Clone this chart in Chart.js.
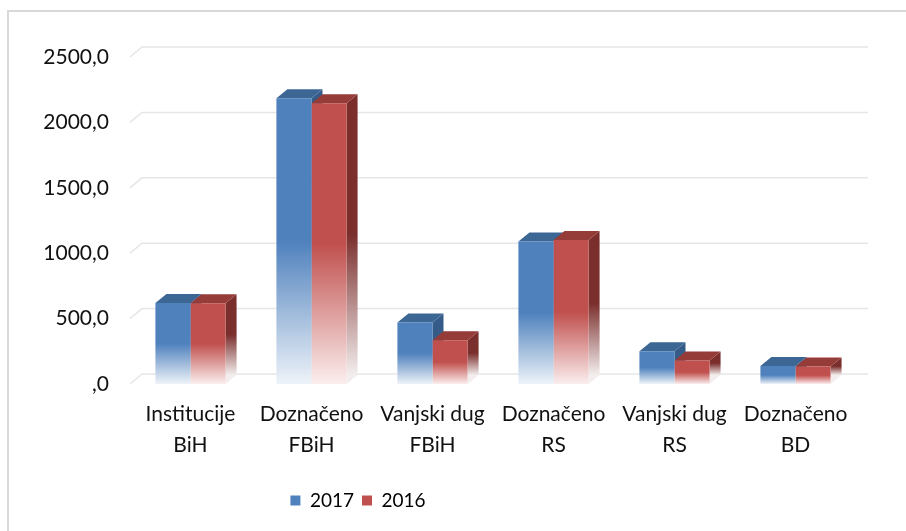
<!DOCTYPE html>
<html>
<head>
<meta charset="utf-8">
<script src="https://cdn.jsdelivr.net/npm/chart.js@4.4.1/dist/chart.umd.min.js"></script>
<style>
  html, body { margin: 0; padding: 0; background: #fff; overflow: hidden; }
  #frame { position: absolute; left: 7px; top: 10px; width: 940px; height: 560px; border: 2px solid #d9d9d9; box-sizing: border-box; }
  #chartWrap { position: absolute; left: 0; top: 0; width: 906px; height: 531px; }
</style>
</head>
<body>
<div id="frame"></div>
<div id="chartWrap"><canvas id="chartFunds"></canvas></div>
<script>
const categories = [
  ['Institucije', 'BiH'],
  ['Doznačeno', 'FBiH'],
  ['Vanjski dug', 'FBiH'],
  ['Doznačeno', 'RS'],
  ['Vanjski dug', 'RS'],
  ['Doznačeno', 'BD'],
];
const values2017 = [620, 2185, 470, 1090, 250, 137];
const values2016 = [618, 2147, 335, 1100, 180, 133];
const yTicks = [0, 500, 1000, 1500, 2000, 2500];

const seriesColors = {
  '2017': { front: '#4f81bd', light: '#eef3f9', top: '#3c6795', side: '#355c89' },
  '2016': { front: '#c0504d', light: '#fbeeee', top: '#953b38', side: '#7a2f2d' },
};
const barDepth = { dx: 11, dy: 9 };
const wallDepth = { dx: 12, dy: 10 };
const legendCenterX = 358;

function fadeFill(colors) {
  return function (context) {
    if (context.type !== 'data') return colors.front;
    const chart = context.chart;
    if (!chart.chartArea) return colors.front;
    const yScale = chart.scales.y;
    const top = yScale.getPixelForValue(context.raw);
    const base = yScale.getPixelForValue(0);
    const g = chart.ctx.createLinearGradient(0, top, 0, base);
    g.addColorStop(0, colors.front);
    g.addColorStop(0.5, colors.front);
    g.addColorStop(1, colors.light);
    return g;
  };
}

// back wall gridlines + top/side faces of the columns, drawn under the front faces
const bar3dPlugin = {
  id: 'bar3d',
  afterLayout(chart) {
    // legend in the reference sits left of the canvas centre
    const lg = chart.legend;
    const shift = legendCenterX - (lg.left + lg.right) / 2;
    lg.left += shift;
    lg.right += shift;
  },
  beforeDatasetsDraw(chart) {
    const ctx = chart.ctx;
    const area = chart.chartArea;
    const yScale = chart.scales.y;
    ctx.save();
    ctx.strokeStyle = '#e6e6e6';
    ctx.lineWidth = 1.5;
    yScale.ticks.forEach(t => {
      const y = yScale.getPixelForValue(t.value);
      ctx.beginPath();
      ctx.moveTo(area.left, y);
      ctx.lineTo(area.left + wallDepth.dx, y - wallDepth.dy);
      ctx.lineTo(area.right + wallDepth.dx, y - wallDepth.dy);
      ctx.stroke();
    });
    chart.data.datasets.forEach((ds, di) => {
      const colors = seriesColors[ds.label];
      const meta = chart.getDatasetMeta(di);
      meta.data.forEach(bar => {
        const { x, y, base, width } = bar.getProps(['x', 'y', 'base', 'width'], true);
        const l = x - width / 2;
        const r = x + width / 2;
        const sg = ctx.createLinearGradient(0, y - barDepth.dy, 0, base - barDepth.dy);
        sg.addColorStop(0, colors.side);
        sg.addColorStop(0.5, colors.side);
        sg.addColorStop(1, '#f3eded');
        ctx.fillStyle = sg;
        ctx.beginPath();
        ctx.moveTo(r, y);
        ctx.lineTo(r + barDepth.dx, y - barDepth.dy);
        ctx.lineTo(r + barDepth.dx, base - barDepth.dy);
        ctx.lineTo(r, base);
        ctx.closePath();
        ctx.fill();
        ctx.fillStyle = colors.top;
        ctx.beginPath();
        ctx.moveTo(l, y);
        ctx.lineTo(l + barDepth.dx, y - barDepth.dy);
        ctx.lineTo(r + barDepth.dx, y - barDepth.dy);
        ctx.lineTo(r, y);
        ctx.closePath();
        ctx.fill();
      });
    });
    ctx.restore();
  }
};

const chartFunds = new Chart(document.getElementById('chartFunds'), {
  type: 'bar',
  data: {
    labels: categories,
    datasets: [
      { label: '2017', data: values2017, backgroundColor: fadeFill(seriesColors['2017']), borderWidth: 0 },
      { label: '2016', data: values2016, backgroundColor: fadeFill(seriesColors['2016']), borderWidth: 0 },
    ]
  },
  options: {
    responsive: true,
    maintainAspectRatio: false,
    animation: false,
    layout: { padding: { top: 57, left: 0, right: 50, bottom: 11 } },
    datasets: { bar: { categoryPercentage: 0.58, barPercentage: 1 } },
    plugins: {
      tooltip: { enabled: false },
      legend: {
        position: 'bottom',
        labels: {
          boxWidth: 10,
          boxHeight: 10,
          padding: 8,
          color: '#111',
          font: { family: 'Lato', size: 19 },
          generateLabels(chart) {
            return chart.data.datasets.map((ds, i) => ({
              text: ds.label,
              fillStyle: seriesColors[ds.label].front,
              strokeStyle: 'rgba(0,0,0,0)',
              lineWidth: 0,
              datasetIndex: i,
              hidden: false,
            }));
          }
        }
      }
    },
    scales: {
      x: {
        grid: { display: false, drawTicks: false },
        border: { display: false },
        ticks: {
          color: '#111',
          padding: 15,
          maxRotation: 0,
          autoSkip: false,
          font: { family: 'Lato', size: 21, lineHeight: 1.48 }
        },
        afterFit(scale) { scale.height = 99; }
      },
      y: {
        min: 0,
        max: 2500,
        grid: { display: false, drawTicks: false },
        border: { display: false },
        afterBuildTicks(scale) { scale.ticks = yTicks.map(v => ({ value: v })); },
        ticks: {
          color: '#111',
          padding: 21,
          font: { family: 'Lato', size: 21 },
          callback: v => (v === 0 ? ',0' : v + ',0')
        },
        afterFit(scale) { scale.width = 130; }
      }
    }
  },
  plugins: [bar3dPlugin]
});
</script>
</body>
</html>
